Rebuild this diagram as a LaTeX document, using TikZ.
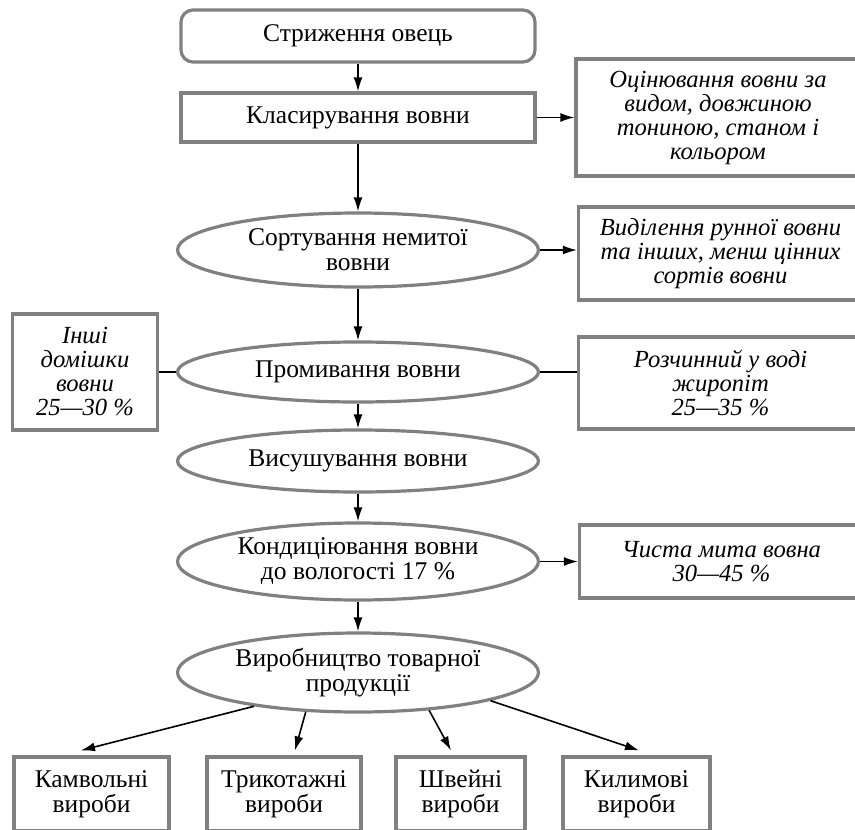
\documentclass[tikz,border=0pt]{standalone}
\usepackage{fontspec}
\setmainfont{Liberation Serif}
\usetikzlibrary{positioning, calc, shapes.geometric, arrows.meta}

\begin{document}
\begin{tikzpicture}[
            every node/.style={font=\fontsize{12.75}{12.5}\selectfont},
            frame/.style={draw=black!50, line width=1.6pt, align=center, inner sep=1pt},
            stage/.style={frame, rectangle, minimum width=177pt},
            oval/.style={frame, ellipse, minimum width=180.5pt},
            note/.style={frame, rectangle, minimum width=142pt, font=\fontsize{12.3}{12}\selectfont\itshape},
            product/.style={frame, rectangle, minimum height=37pt},
            link/.style={-{Latex[length=7pt,width=4.5pt]}, line width=0.8pt},
            joint/.style={line width=0.8pt}
        ]
            % page frame (the right and bottom boxes run off the page)
            \clip (-179pt,18pt) rectangle (248.5pt,-396.5pt);

            % --- Node Placement ---
            \node[stage, rounded corners=6pt, minimum height=26pt] (shear) at (0,0) {Стриження овець};
            \node[stage, below=13.9pt of shear, minimum height=24.5pt] (grade) {Класирування вовни};
            \node[oval, below=33.9pt of grade, minimum height=37pt] (sort) {Сортування немитої\\вовни};
            \node[oval, below=25.9pt of sort, minimum height=30pt] (wash) {Промивання вовни};
            \node[oval, below=12.4pt of wash, minimum height=31pt] (dry) {Висушування вовни};
            \node[oval, below=13.9pt of dry, minimum height=38.5pt] (cond) {Кондиціювання вовни\\до вологості 17 \%};
            \node[oval, below=14.9pt of cond, minimum height=39.5pt] (prod) {Виробництво товарної\\продукції};

            \node[note, right=18.9pt of grade, minimum height=58.5pt] (gradeinfo) {Оцінювання вовни за\\видом, довжиною\\тониною, станом і\\кольором};
            \node[note, right=18.4pt of sort, yshift=-1.75pt, minimum height=46.5pt] (sortinfo) {Виділення рунної вовни\\та інших, менш цінних\\сортів вовни};
            \node[note, right=18.4pt of wash, yshift=-5.5pt, minimum height=46pt] (fat) {Розчинний у воді\\жиропіт\\25—35 \%};
            \node[note, left=8.4pt of wash, minimum width=72.5pt, minimum height=58pt] (impur) {Інші\\домішки\\вовни\\25—30 \%};
            \node[note, right=18.9pt of cond, minimum height=36.5pt] (clean) {Чиста мита вовна\\30—45 \%};

            \node[product, below=20.9pt of prod, xshift=-133.25pt, minimum width=77.5pt] (worsted) {Камвольні\\вироби};
            \node[product, below=20.9pt of prod, xshift=-37pt, minimum width=77pt] (knit) {Трикотажні\\вироби};
            \node[product, below=20.9pt of prod, xshift=51.25pt, minimum width=64.5pt] (sewn) {Швейні\\вироби};
            \node[product, below=20.9pt of prod, xshift=139.25pt, minimum width=73.5pt] (carpet) {Килимові\\вироби};

            % --- Links ---
            \draw[link] (shear) -- (grade);
            \draw[link] (grade) -- (sort);
            \draw[link] (sort) -- (wash);
            \draw[link] (wash) -- (dry);
            \draw[link] (dry) -- (cond);
            \draw[link] (cond) -- (prod);

            \draw[link] (grade) -- (gradeinfo);
            \draw[link] (sort.east) -- (sort.east -| sortinfo.west);
            \draw[joint] (wash.east) -- (wash.east -| fat.west);
            \draw[joint] (impur) -- (wash);
            \draw[link] (cond) -- (clean);

            \draw[link] (prod.198) -- ([xshift=-5.25pt,yshift=2.5pt]worsted.north);
            \draw[link] (prod.217) -- ([xshift=5.5pt,yshift=2.5pt]knit.north);
            \draw[link] (prod.332) -- ([xshift=-4.75pt,yshift=2.5pt]sewn.north);
            \draw[link] (prod.348) -- ([xshift=1.25pt,yshift=2.5pt]carpet.north);
        \end{tikzpicture}
\end{document}
